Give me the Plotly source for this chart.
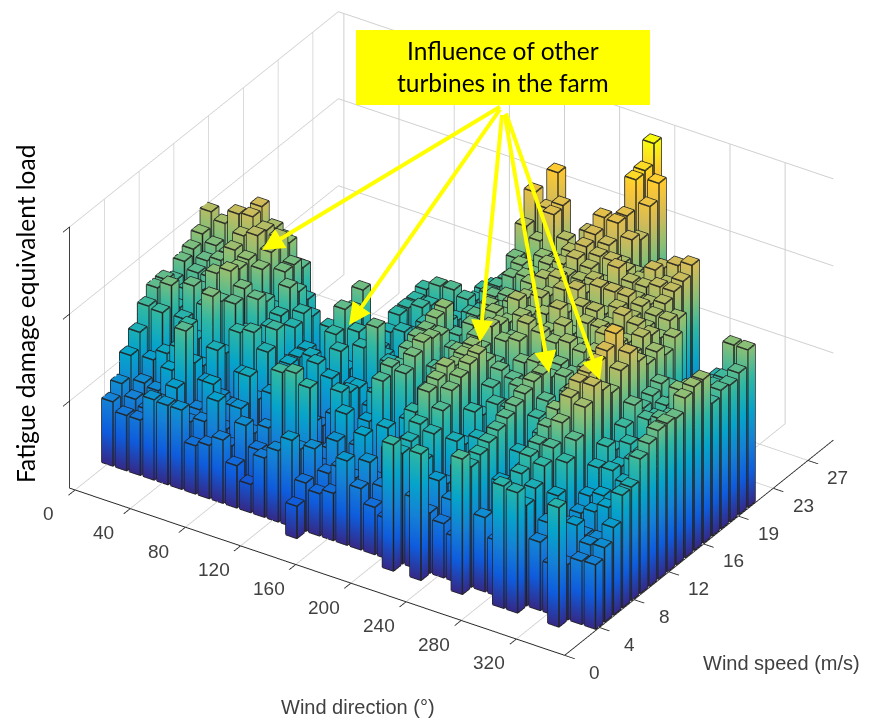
import plotly.graph_objects as go

# bar heights, index 0 = wind speed 3 m/s, then 1 m/s per entry; 0 = no bar
dir_000 = [0,64,75,96,112,131,142,143,135,147,152,160,175]
dir_010 = [0,55,64,73,89,129,149,120,130,140,145,153,168,160]
dir_020 = [0,55,58,70,100,85,120,146,135,140,150,149,182,170]
dir_030 = [0,80,70,95,110,125,105,130,156,148,165,172,184,187]
dir_040 = [0,79,89,139,100,90,152,140,163,158,160,177,175,170,153]
dir_050 = [0,79,60,65,85,110,100,142,150,120,155,165,172,160,130]
dir_060 = [0,48,65,95,75,60,125,118,144,135,120,150,150,140]
dir_070 = [0,53,90,55,70,95,130,105,120,125,146,135,120]
dir_080 = [0,63,50,80,105,75,115,130,90,118,125,115]
dir_090 = [0,42,75,60,45,85,70,100,100,100,85]
dir_100 = [0,28,55,70,40,60,95,80,105,90,120]
dir_110 = [0,59,45,130,65,50,75,110,90,125,143,135,148]
dir_120 = [0,71,60,134,85,70,60,100,120,95,125,102,105]
dir_130 = [0,86,70,124,55,45,75,65,90,121,80,105,115,125,125,125,129]
dir_140 = [32,48,75,50,60,110,103,100,85,146,110,95,120,110,130,125,137]
dir_150 = [0,42,55,80,100,60,50,85,70,115,90,100,85,125,115,120,138]
dir_160 = [0,47,65,50,72,90,110,100,100,85,120,105,130,110,125,120,133,125,128,124]
dir_170 = [0,84,60,95,55,135,142,135,145,150,150,155,158,125,110,130,125,136,136,135,150,175,202,150]
dir_180 = [0,61,80,55,100,70,140,150,157,154,150,110,135,120,140,115,145,130,150,155,145,165,190,219]
dir_190 = [0,47,60,90,70,105,95,120,135,110,140,125,150,135,155,145,150,140,155,150,160,196,198]
dir_200 = [0,40,70,100,125,115,130,145,140,150,135,150,145,160,150,155,145,160,150,165,160,175]
dir_210 = [126,110,115,125,150,155,161,155,158,160,150,165,160,155,170,165,160,170,165,170,175,165,180,170]
dir_220 = [0,70,100,120,136,149,155,161,164,150,140,155,150,165,160,170,165,175,170,180,185,190,200,185]
dir_230 = [126,60,85,75,110,100,125,115,135,145,130,160,170,155,165,160,175,165,170,175,180,184,199,199,228,230,250]
dir_240 = [0,54,70,95,80,110,95,130,120,140,150,135,165,160,175,165,180,170,175,165,180,170,187,180,206,222]
dir_250 = [0,45,85,60,100,90,115,130,145,125,155,145,160,170,155,175,165,180,170,185,175,165]
dir_260 = [135,120,125,130,135,140,145,150,155,155,145,150,165,155,170,175,165,180,170,175,170,165]
dir_270 = [0,74,65,95,85,110,100,130,140,120,150,145,160,150,170,165,175,180,170,175,185,180]
dir_280 = [0,55,90,75,105,115,125,110,135,145,135,155,165,175,170,180,170,175,170,180,175,187]
dir_290 = [122,110,120,130,135,145,155,150,160,150,140,160,155,170,165,175,165,170,175,180,183,192]
dir_300 = [120,100,110,125,136,154,172,180,182,185,190,200,175,165,175,170,160,170,165]
dir_310 = [0,68,80,100,126,141,167,181,170,160,175,185,170,160,165,155,165]
dir_320 = [0,50,70,75,80,90,111,125,115,130,145,135,140,145,135,120,115,115]
dir_330 = [119,55,87,70,86,95,113,110,125,115,135,130,135,130,125,130,125,122,120]
dir_340 = [0,63,72,70,95,85,105,120,120,125,140,135,155,150,135,125,130,131,157]
dir_350 = [0,64,74,87,112,113,134,142,148,148,146,159,163,163,132,138,136,141,157]

direction_bars = [dir_000,dir_010,dir_020,dir_030,dir_040,dir_050,dir_060,dir_070,dir_080,
                  dir_090,dir_100,dir_110,dir_120,dir_130,dir_140,dir_150,dir_160,dir_170,
                  dir_180,dir_190,dir_200,dir_210,dir_220,dir_230,dir_240,dir_250,dir_260,
                  dir_270,dir_280,dir_290,dir_300,dir_310,dir_320,dir_330,dir_340,dir_350]
first_speed = 3
direction_step = 10
half_dir = 4.0
half_speed = 0.4

x_ticks = [0,40,80,120,160,200,240,280,320]
y_ticks = [0,3.88,7.76,11.64,15.52,19.4,23.28,27.16]
y_labels = ["0","4","8","12","16","19","23","27"]
z_ticks = [87,174,261]

parula = [[0.0,"#352a87"],[0.125,"#0f5cdd"],[0.25,"#1481d6"],[0.375,"#06a4ca"],[0.5,"#2eb7a4"],
          [0.625,"#87bf77"],[0.75,"#d1bb59"],[0.875,"#fec832"],[1.0,"#f9fb0e"]]

vx,vy,vz,fi,fj,fk = [],[],[],[],[],[]
lx,ly,lz = [],[],[]
for c,col in enumerate(direction_bars):
    xc = c*direction_step
    for r,h in enumerate(col):
        if h<=0: continue
        yc = first_speed+r
        x0,x1,y0,y1 = xc-half_dir,xc+half_dir,yc-half_speed,yc+half_speed
        n = len(vx)
        for z in (0,h):
            vx += [x0,x1,x1,x0]; vy += [y0,y0,y1,y1]; vz += [z,z,z,z]
        quads = [(0,1,5,4),(1,2,6,5),(2,3,7,6),(3,0,4,7),(4,5,6,7)]
        for a,b,cc,d in quads:
            fi += [n+a,n+a]; fj += [n+b,n+cc]; fk += [n+cc,n+d]
        lx += [x0,x1,x1,x0,x0,None,x0,x1,x1,x0,x0,None,x1,x1,None,x1,x1,None,x0,x0,None]
        ly += [y0,y0,y1,y1,y0,None,y0,y0,y1,y1,y0,None,y0,y0,None,y1,y1,None,y0,y0,None]
        lz += [0,0,0,0,0,None,h,h,h,h,h,None,0,h,None,0,h,None,0,h,None]

fig = go.Figure()
fig.add_trace(go.Mesh3d(x=vx,y=vy,z=vz,i=fi,j=fj,k=fk,intensity=vz,colorscale=parula,cmin=0,cmax=250,
                        showscale=False,flatshading=True,hoverinfo="skip",
                        lighting=dict(ambient=1.0,diffuse=0.0,specular=0.0,roughness=1.0,fresnel=0.0)))
fig.add_trace(go.Scatter3d(x=lx,y=ly,z=lz,mode="lines",line=dict(color="#222222",width=3),hoverinfo="skip",showlegend=False))

W,H = 875,719
def px(x): return x/W
def py(y): return 1-y/H

axis_font = dict(family="Liberation Sans, Arial, sans-serif",size=20,color="#404040")
tick_font = dict(family="Liberation Sans, Arial, sans-serif",size=19,color="#404040")
common = dict(showbackground=False,showgrid=True,gridcolor="#cfcfcf",gridwidth=2,showline=True,linecolor="#262626",linewidth=2,
              ticks="outside",ticklen=12,tickwidth=2,tickcolor="#262626",showticklabels=False,zeroline=False,title=dict(text=""),
              showspikes=False,autorange=False)
scale = 1.77
x_range = [-4,355]
tick_annotations = [dict(x=v,y=0,z=0,text=str(v),showarrow=False,xanchor="center",yanchor="middle",xshift=-27,yshift=-24,font=tick_font) for v in x_ticks]
tick_annotations += [dict(x=x_range[1],y=v,z=0,text=t,showarrow=False,xanchor="center",yanchor="middle",xshift=30,yshift=-17,font=tick_font) for v,t in zip(y_ticks,y_labels)]
fig.update_layout(
    width=W,height=H,margin=dict(l=0,r=0,t=0,b=0),paper_bgcolor="white",showlegend=False,
    scene=dict(
        domain=dict(x=[0.032,1],y=[0.0725,1]),
        xaxis=dict(common,range=x_range,tickmode="array",tickvals=x_ticks),
        yaxis=dict(common,range=[0,30],tickmode="array",tickvals=y_ticks),
        zaxis=dict(common,range=[0,261],tickmode="array",tickvals=z_ticks),
        aspectmode="manual",aspectratio=dict(x=1*scale,y=0.836*scale,z=0.518*scale),
        camera=dict(projection=dict(type="orthographic"),up=dict(x=0,y=0,z=1),center=dict(x=0,y=0,z=0),
                    eye=dict(x=0.465*1.5,y=-0.716*1.5,z=0.52*1.5)),
        annotations=tick_annotations,
    ),
    shapes=[dict(type="rect",xref="paper",yref="paper",x0=px(356),x1=px(650),y0=py(105),y1=py(30),fillcolor="#ffff00",line=dict(width=0),layer="above")],
)
label_font = dict(family="Lato, Calibri, sans-serif",color="black")
ann = [
    dict(x=px(503),y=py(67),text="Influence of other<br>turbines in the farm",font=dict(label_font,size=24.5),showarrow=False),
    dict(x=px(25),y=py(314),text="Fatigue damage equivalent load",font=dict(label_font,size=24.5),textangle=-90,showarrow=False),
    dict(x=px(358),y=py(707),text="Wind direction (°)",font=axis_font,showarrow=False),
    dict(x=px(781),y=py(663),text="Wind speed (m/s)",font=axis_font,showarrow=False),
]
arrow_tips = [(262,250),(349,325),(480,342),(549,373),(600,380)]
for tx,ty in arrow_tips:
    ann.append(dict(x=px(tx),y=py(ty),axref="pixel",ayref="pixel",ax=503-tx,ay=105-ty,text=" ",
                    showarrow=True,arrowcolor="#ffff00",arrowwidth=4,arrowhead=2,arrowsize=1.1,startstandoff=0,standoff=0))
for a in ann:
    a["xref"]="paper"; a["yref"]="paper"; a["xanchor"]="center"; a["yanchor"]="middle"
fig.update_layout(annotations=ann)
fig.write_html("out.html",post_script="document.body.style.margin='0';",config={"displayModeBar":False})
